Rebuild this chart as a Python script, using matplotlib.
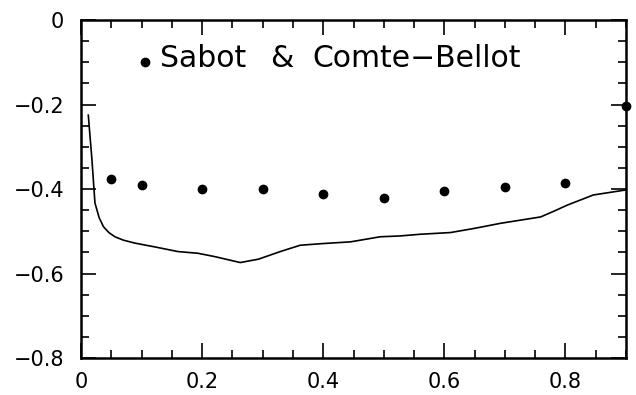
import matplotlib
matplotlib.use("Agg")
import matplotlib.pyplot as plt
from matplotlib.ticker import MultipleLocator, FuncFormatter

# Experimental data (Sabot & Comte-Bellot)
exp_x = [0.05, 0.1, 0.2, 0.3, 0.4, 0.5, 0.6, 0.7, 0.8, 0.9]
exp_y = [-0.376, -0.390, -0.401, -0.401, -0.412, -0.422, -0.404, -0.394, -0.385, -0.204]

# Computed curve
curve_x = [0.012, 0.018, 0.023, 0.030, 0.037, 0.046, 0.056, 0.070, 0.089, 0.122, 0.160,
           0.193, 0.221, 0.263, 0.293, 0.329, 0.362, 0.400, 0.445, 0.494, 0.527, 0.560,
           0.610, 0.650, 0.693, 0.759, 0.780, 0.803, 0.846, 0.900]
curve_y = [-0.225, -0.330, -0.433, -0.468, -0.489, -0.503, -0.513, -0.521, -0.528, -0.537,
           -0.548, -0.552, -0.560, -0.574, -0.566, -0.548, -0.533, -0.529, -0.525, -0.513,
           -0.511, -0.507, -0.503, -0.493, -0.481, -0.466, -0.453, -0.438, -0.414, -0.402]

legend_words = ["Sabot", "&", "Comte\u2212Bellot"]
legend_word_x = [0.145, 0.347, 0.425]

fig = plt.figure(figsize=(6.36, 3.95), dpi=100)
ax = fig.add_axes([0.1274, 0.0937, 0.8569, 0.8553])

ax.plot(curve_x, curve_y, color="black", lw=1.2)
ax.plot(exp_x, exp_y, "o", color="black", ms=6, clip_on=False)

ax.set_xlim(0, 0.9)
ax.set_ylim(-0.8, 0)
ax.xaxis.set_major_locator(MultipleLocator(0.2))
ax.xaxis.set_minor_locator(MultipleLocator(0.05))
ax.yaxis.set_major_locator(MultipleLocator(0.2))
ax.yaxis.set_minor_locator(MultipleLocator(0.05))

def fmt(v, pos):
    if abs(v) < 1e-9:
        return "0"
    s = f"{v:.1f}"
    return s.replace("-", "\u2212")
ax.xaxis.set_major_formatter(FuncFormatter(fmt))
ax.yaxis.set_major_formatter(FuncFormatter(fmt))

ax.tick_params(which="both", direction="in", top=True, right=True, width=1.2,
               labelsize=15)
ax.tick_params(which="major", length=11, pad=12)
ax.tick_params(which="minor", length=6)
ax.tick_params(axis="x", which="major", pad=10)
for sp in ax.spines.values():
    sp.set_linewidth(1.8)

ax.plot([0.117], [0.877], "o", color="black", ms=6, transform=ax.transAxes)
for w, wx in zip(legend_words, legend_word_x):
    ax.text(wx, 0.860, w, transform=ax.transAxes, fontsize=21.5,
            ha="left", va="baseline")

fig.savefig("out.png", dpi=100)
